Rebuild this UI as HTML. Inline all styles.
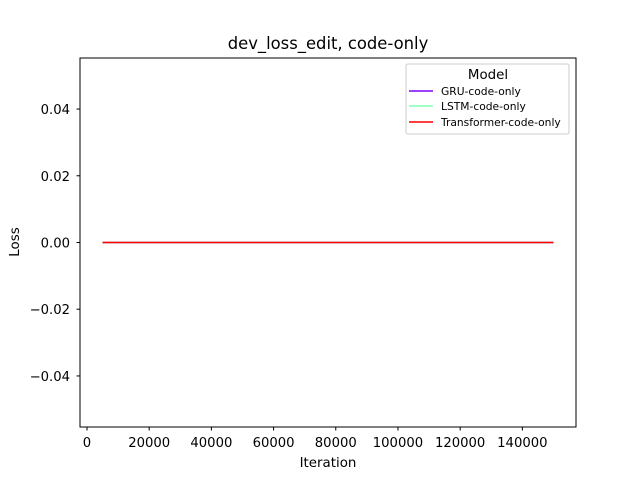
<!DOCTYPE html>
<html><head><meta charset="utf-8"><style>
body{margin:0;background:#fff}
svg text{font-family:"DejaVu Sans","Liberation Sans",sans-serif;fill:#000}
</style></head><body>
<svg id="c" width="640" height="480" xmlns="http://www.w3.org/2000/svg">
<rect width="640" height="480" fill="#fff"/>
<text x="328" y="49" font-size="16.4" text-anchor="middle">dev_loss_edit, code-only</text>
<g id="plot"></g>
<rect x="80" y="58" width="496" height="369" fill="none" stroke="#000" stroke-width="1"/>
<text x="328" y="467" font-size="13.4" text-anchor="middle">Iteration</text>
<text x="19" y="242" font-size="13.4" text-anchor="middle" transform="rotate(-90 19 242)">Loss</text>
<g>
<rect x="406" y="64" width="163" height="70" rx="2" fill="#fff" fill-opacity="0.8" stroke="#ccc"/>
<text x="488" y="79" font-size="13.4" text-anchor="middle">Model</text>
<line x1="409" y1="91" x2="433" y2="91" stroke="#8000ff" stroke-width="1.5"/>
<text x="441" y="95" font-size="10.7">GRU-code-only</text>
<line x1="409" y1="106" x2="433" y2="106" stroke="#80ffb4" stroke-width="1.5"/>
<text x="441" y="110" font-size="10.7">LSTM-code-only</text>
<line x1="409" y1="122" x2="433" y2="122" stroke="#ff0000" stroke-width="1.5"/>
<text x="441" y="126" font-size="10.7">Transformer-code-only</text>
</g>
</svg>
<script>
const iterations=[5000,150000];
const gruLoss=[0,0];
const lstmLoss=[0,0];
const transformerLoss=[0,0];
const xTicks=[0,20000,40000,60000,80000,100000,120000,140000];
const yTicks=[-0.04,-0.02,0.00,0.02,0.04];
const yTickLabels=["\u22120.04","\u22120.02","0.00","0.02","0.04"];
const X0=80,X1=576,Y0=58,Y1=427,xmin=-2250,xmax=157250,ymin=-0.0553,ymax=0.0553;
const xs=v=>X0+(v-xmin)/(xmax-xmin)*(X1-X0);
const ys=v=>Y1-(v-ymin)/(ymax-ymin)*(Y1-Y0);
const NS="http://www.w3.org/2000/svg";
const g=document.getElementById('plot');
function mk(t,a){const e=document.createElementNS(NS,t);for(const k in a)e.setAttribute(k,a[k]);g.appendChild(e);return e;}
xTicks.forEach(v=>{
 const l=mk('line',{x1:xs(v),x2:xs(v),y1:Y1,y2:Y1+3.5,stroke:'#000'});
 
 
 const t=mk('text',{x:xs(v),y:Y1+20,'font-size':13.2,'text-anchor':'middle'});
 t.textContent=v;
 
 
});
yTicks.forEach((v,i)=>{
 const l=mk('line',{x1:X0-3.5,x2:X0,y1:ys(v),y2:ys(v),stroke:'#000'});
 
 
 const t=mk('text',{x:X0-10,y:ys(v)+5,'font-size':13.2,'text-anchor':'end'});
 t.textContent=yTickLabels[i];
 
 
});
[[gruLoss,'#8000ff','gru'],[lstmLoss,'#80ffb4','lstm'],[transformerLoss,'#ff0000','transformer']].forEach(([d,c,n])=>{
 const p=mk('polyline',{points:iterations.map((x,i)=>xs(x)+','+ys(d[i])).join(' '),fill:'none',stroke:c,'stroke-width':1.5});
 
 
});
</script>
</body></html>
